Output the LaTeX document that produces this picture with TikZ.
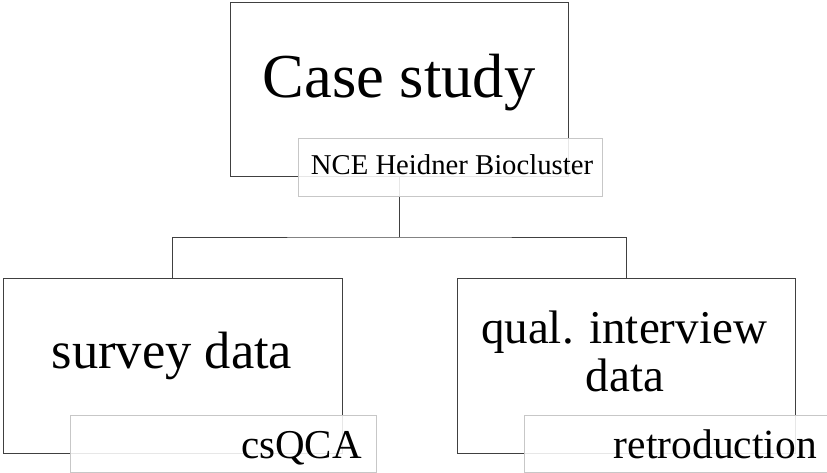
\documentclass[tikz,border=0pt]{standalone}
\usepackage{fontspec}
\setmainfont{Liberation Serif}
\tikzset{
  mainbox/.style={draw=black!75, line width=0.9pt, fill=white, minimum width=#1, inner sep=0pt},
  labelbox/.style={draw=black!22, line width=0.9pt, fill=white, fill opacity=0.88, text opacity=1, inner sep=0pt},
  conn/.style={draw=black!75, line width=0.9pt},
  txt/.style={inner sep=0pt, anchor=base, text=black},
}
\begin{document}
\begin{tikzpicture}[x=1pt,y=-1pt]
\useasboundingbox (0,0) rectangle (827,473);
% main boxes
\node[mainbox=338pt, minimum height=174pt] (top) at (399.5,89) {};
\node[mainbox=339pt, minimum height=175pt] (left) at (172.5,365.5) {};
\node[mainbox=338pt, minimum height=175pt] (right) at (626.5,365.5) {};
% connectors (under the labels)
\coordinate (j) at (399.5,237);
\draw[conn] (top.south) -- (j);
\draw[conn] (left.north) |- (j) -| (right.north);
% texts of main boxes
\node[txt, font=\fontsize{62.5}{62.5}\selectfont] (toptxt) at (399,98) {Case study};
\node[txt, font=\fontsize{52.5}{52.5}\selectfont] (lefttxt) at (172,368) {survey data};
\node[txt, font=\fontsize{47}{47}\selectfont] (righttxt1) at (624,343) {qual. interview};
\node[txt, font=\fontsize{47}{47}\selectfont] (righttxt2) at (625,391) {data};
% labels
\node[labelbox, minimum width=304pt, minimum height=58pt] (toplab) at (450,167) {};
\node[txt, font=\fontsize{28.7}{28.7}\selectfont] (toplabtxt) at (452,175) {NCE Heidner Biocluster};
\node[labelbox, minimum width=306pt, minimum height=57pt] (leftlab) at (223,443.5) {};
\node[txt, anchor=base east, font=\fontsize{41}{41}\selectfont] (leftlabtxt) at (362,458) {csQCA};
\node[labelbox, minimum width=306pt, minimum height=57pt] (rightlab) at (677,443.5) {};
\node[txt, anchor=base east, font=\fontsize{41.5}{41.5}\selectfont] (rightlabtxt) at (817,458) {retroduction};
\end{tikzpicture}
\end{document}
